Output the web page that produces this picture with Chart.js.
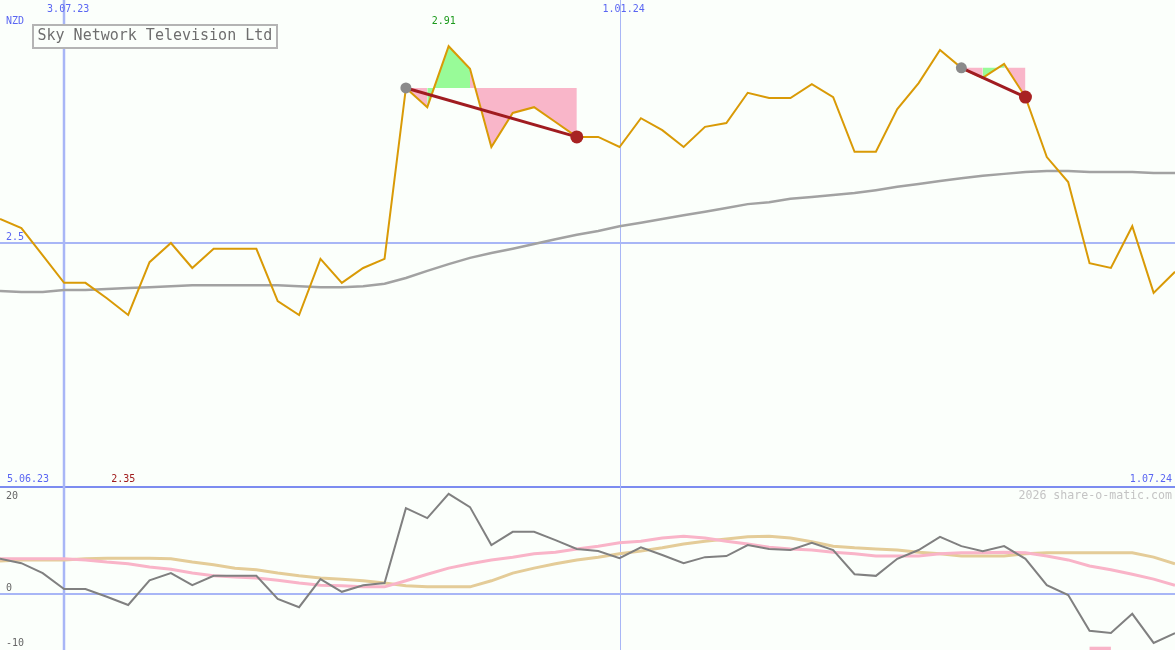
<!DOCTYPE html>
<html><head><meta charset="utf-8">
<script src="https://cdn.jsdelivr.net/npm/chart.js@4.4.1/dist/chart.umd.min.js"></script>
<style>html,body{margin:0;padding:0;background:#fbfffb;overflow:hidden}canvas{display:block}</style>
</head><body>
<canvas id="c" width="1175" height="650" style="width:1175px;height:650px"></canvas>
<script>
// ---------- data ----------
const weeks = ['12.06.23','19.06.23','26.06.23','3.07.23','10.07.23','17.07.23','24.07.23','31.07.23','7.08.23','14.08.23',
  '21.08.23','28.08.23','4.09.23','11.09.23','18.09.23','25.09.23','2.10.23','9.10.23','16.10.23','23.10.23',
  '30.10.23','6.11.23','13.11.23','20.11.23','27.11.23','4.12.23','11.12.23','18.12.23','25.12.23','1.01.24',
  '8.01.24','15.01.24','22.01.24','29.01.24','5.02.24','12.02.24','19.02.24','26.02.24','4.03.24','11.03.24',
  '18.03.24','25.03.24','1.04.24','8.04.24','15.04.24','22.04.24','29.04.24','6.05.24','13.05.24','20.05.24',
  '27.05.24','3.06.24','10.06.24','17.06.24','24.06.24','1.07.24'];
const price = [2.550,2.531,2.474,2.417,2.417,2.385,2.350,2.460,2.500,2.448,
  2.488,2.488,2.488,2.379,2.350,2.467,2.417,2.448,2.467,2.823,
  2.783,2.910,2.863,2.700,2.771,2.783,2.752,2.721,2.721,2.700,
  2.760,2.735,2.700,2.742,2.750,2.813,2.802,2.802,2.831,2.804,
  2.690,2.690,2.779,2.833,2.902,2.865,2.844,2.873,2.804,2.679,
  2.627,2.458,2.448,2.535,2.396,2.440];
const movingAvg = [2.400,2.398,2.398,2.402,2.402,2.404,2.406,2.408,2.410,2.412,
  2.412,2.412,2.412,2.412,2.410,2.408,2.408,2.410,2.415,2.427,
  2.442,2.456,2.469,2.479,2.488,2.498,2.508,2.517,2.525,2.535,
  2.542,2.550,2.558,2.565,2.573,2.581,2.585,2.592,2.596,2.600,
  2.604,2.610,2.617,2.623,2.629,2.635,2.640,2.644,2.648,2.650,
  2.650,2.648,2.648,2.648,2.646,2.646];
const oscillator = [6.4,5.6,3.8,0.9,0.9,-0.5,-2.0,2.5,3.8,1.6,
  3.3,3.3,3.3,-0.9,-2.4,2.7,0.4,1.6,2.0,15.6,
  13.8,18.2,15.8,8.9,11.3,11.3,9.8,8.2,7.8,6.5,
  8.5,7.1,5.6,6.7,6.9,8.9,8.2,8.0,9.3,8.0,
  3.6,3.3,6.4,8.0,10.4,8.7,7.8,8.7,6.4,1.6,
  -0.2,-6.7,-7.1,-3.6,-8.9,-7.1];
const oscAvgFast = [6.4,6.4,6.4,6.4,6.2,5.8,5.5,4.9,4.5,3.8,
  3.3,3.1,2.9,2.5,2.0,1.6,1.5,1.3,1.3,2.4,
  3.6,4.7,5.5,6.2,6.7,7.3,7.6,8.2,8.7,9.3,
  9.6,10.2,10.5,10.2,9.6,9.1,8.5,8.2,8.0,7.6,
  7.3,6.9,6.9,6.9,7.3,7.5,7.5,7.6,7.5,6.9,
  6.2,5.1,4.4,3.6,2.7,1.6];
const oscAvgSlow = [6.0,6.2,6.2,6.2,6.4,6.5,6.5,6.5,6.4,5.8,
  5.3,4.7,4.4,3.8,3.3,2.9,2.7,2.4,2.0,1.5,
  1.3,1.3,1.3,2.4,3.8,4.7,5.5,6.2,6.7,7.3,
  7.8,8.4,9.1,9.6,10.0,10.4,10.5,10.2,9.5,8.7,
  8.4,8.2,8.0,7.6,7.3,6.9,6.9,6.9,7.3,7.5,
  7.5,7.5,7.5,7.5,6.7,5.5];
const signalWeeks = ['3.06.24','10.06.24'];
const signalValue = -9.9;
const trades = [{open:'23.10.23', close:'18.12.23'}, {open:'22.04.24', close:'13.05.24'}];
const dateMarks = ['3.07.23','1.01.24'];
const priceTicks = [2.5];
const oscTicks = [20, 0, -10];
const rangeLabels = ['5.06.23','1.07.24'];
const currency = 'NZD';
const titleText = 'Sky Network Television Ltd';
const creditText = '2026 share-o-matic.com';

// ---------- style / layout ----------
const BG = '#fbfffb';
const GRID = '#a8b6f6';
const SPLIT_COLOR = '#7c8cf0';
const BLUE_TXT = '#5a66f2';
const PANEL_SPLIT = 487;
const MONO = "'DejaVu Sans Mono', 'Liberation Mono', monospace";
const GREEN_FILL = '#98fb98';
const PINK_FILL = '#f9b6c9';

const n = weeks.length;
const nulls = () => new Array(n).fill(null);

const datasets = [];
// exit and entry dots
const exitDots = nulls(), entryDots = nulls();
trades.forEach(t => { const a = weeks.indexOf(t.open), b = weeks.indexOf(t.close); entryDots[a] = price[a]; exitDots[b] = price[b]; });
datasets.push({data: exitDots, showLine:false, pointRadius:6.5, pointBackgroundColor:'#a82222', pointBorderWidth:0, yAxisID:'y', order:0});
datasets.push({data: entryDots, showLine:false, pointRadius:5.5, pointBackgroundColor:'#8a8a8a', pointBorderWidth:0, yAxisID:'y', order:0});
// trade lines
trades.forEach(t => {
  const a = weeks.indexOf(t.open), b = weeks.indexOf(t.close);
  const d = nulls(); d[a] = price[a]; d[b] = price[b];
  datasets.push({data:d, spanGaps:true, borderColor:'#a01c20', borderWidth:3, pointRadius:0, yAxisID:'y', order:1});
});
// price
datasets.push({data: price, borderColor:'#d99a06', borderWidth:2, pointRadius:0, tension:0, yAxisID:'y', order:2});
// trade fills
trades.forEach(t => {
  const a = weeks.indexOf(t.open), b = weeks.indexOf(t.close);
  const level = price[a];
  const d = nulls(); for (let i = a; i <= b; i++) d[i] = price[i];
  datasets.push({data:d, borderColor:'transparent', borderWidth:0, pointRadius:0, yAxisID:'y', order:3,
    backgroundColor: PINK_FILL, fill:{target:{value: level}},
    segment:{backgroundColor: c => c.p1.parsed.y > level ? GREEN_FILL : PINK_FILL}});
});
// moving average
datasets.push({data: movingAvg, borderColor:'#a2a2a2', borderWidth:2.5, pointRadius:0, yAxisID:'y', order:4});
// oscillator panel
datasets.push({data: oscillator, borderColor:'#808080', borderWidth:2, pointRadius:0, yAxisID:'y2', order:5});
datasets.push({data: oscAvgFast, borderColor:'#f9b4c8', borderWidth:3, pointRadius:0, yAxisID:'y2', order:6});
datasets.push({data: oscAvgSlow, borderColor:'#e4cc98', borderWidth:3, pointRadius:0, yAxisID:'y2', order:7});
const sig = nulls(); signalWeeks.forEach(w => sig[weeks.indexOf(w)] = signalValue);
datasets.push({data: sig, borderColor:'#f9b4c8', borderWidth:3.5, borderCapStyle:'butt', pointRadius:0, yAxisID:'y2', order:8});

function hline(ctx, x0, y, x1, color, w){ ctx.beginPath(); ctx.strokeStyle=color; ctx.lineWidth=w; ctx.moveTo(x0,y); ctx.lineTo(x1,y); ctx.stroke(); }
function vline(ctx, x, y0, y1, color, w){ ctx.beginPath(); ctx.strokeStyle=color; ctx.lineWidth=w; ctx.moveTo(x,y0); ctx.lineTo(x,y1); ctx.stroke(); }
function text(ctx, s, x, y, color, size, align){ ctx.fillStyle=color; ctx.font = size+'px '+MONO; ctx.textAlign=align||'left'; ctx.textBaseline='middle'; ctx.fillText(s, x, y); }

const deco = {
  id:'deco',
  beforeDraw(chart){ const c=chart.ctx; c.save(); c.fillStyle=BG; c.fillRect(0,0,chart.width,chart.height); c.restore(); },
  beforeDatasetsDraw(chart){
    const ctx = chart.ctx, {x, y, y2} = chart.scales, W = chart.width, H = chart.height;
    ctx.save();
    priceTicks.forEach(v => hline(ctx, 0, Math.round(y.getPixelForValue(v)), W, GRID, 2));
    hline(ctx, 0, Math.round(y2.getPixelForValue(0)), W, GRID, 2);
    hline(ctx, 0, PANEL_SPLIT, W, SPLIT_COLOR, 2);
    dateMarks.forEach((d, k) => {
      const px = x.getPixelForValue(weeks.indexOf(d));
      if (k === 0) vline(ctx, Math.round(px), 0, H, GRID, 2.5);
      else vline(ctx, Math.round(px) + 0.5, 0, H, GRID, 1);
    });
    ctx.restore();
  },
  afterDatasetsDraw(chart){
    const ctx = chart.ctx, {x, y, y2} = chart.scales, W = chart.width;
    ctx.save();
    // date marks
    dateMarks.forEach(d => text(ctx, d, x.getPixelForValue(weeks.indexOf(d)) - 17, 9, BLUE_TXT, 10));
    // currency
    text(ctx, currency, 6, 21.5, BLUE_TXT, 10);
    // price tick labels
    priceTicks.forEach(v => text(ctx, String(v), 6, y.getPixelForValue(v) - 5.5, BLUE_TXT, 10));
    // osc tick labels
    oscTicks.forEach(v => {
      let py = y2.getPixelForValue(v) - 5.5;
      py = Math.max(py, PANEL_SPLIT + 9.5);
      text(ctx, String(v), 6, py, '#666666', 10);
    });
    // high / low labels
    const hi = Math.max(...price), lo = Math.min(...price);
    text(ctx, hi.toFixed(2), x.getPixelForValue(price.indexOf(hi)) - 17, 21, '#1c9a1c', 10);
    text(ctx, lo.toFixed(2), x.getPixelForValue(price.indexOf(lo)) - 17, 479, '#a01c1c', 10);
    // range labels
    text(ctx, rangeLabels[0], 7, 479, BLUE_TXT, 10);
    text(ctx, rangeLabels[1], W - 3, 479, BLUE_TXT, 10, 'right');
    // credit
    text(ctx, creditText, W - 3, 496, '#c4c4c4', 11.6, 'right');
    // title box
    ctx.fillStyle = BG; ctx.fillRect(33, 25, 244, 23);
    ctx.strokeStyle = '#b4b4b4'; ctx.lineWidth = 2; ctx.strokeRect(33, 25, 244, 23);
    text(ctx, titleText, 37.5, 36.5, '#6e6e6e', 15);
    ctx.restore();
  }
};

new Chart(document.getElementById('c'), {
  type:'line',
  data:{labels: weeks, datasets},
  options:{
    responsive:false, animation:false, events:[],
    layout:{padding:0, autoPadding:false},
    elements:{line:{tension:0}},
    plugins:{legend:{display:false}, tooltip:{enabled:false}},
    scales:{
      x:{type:'category', display:false, offset:false},
      y:{type:'linear', display:false, min:1.65208, max:3.00625},
      y2:{type:'linear', display:false, min:-10.1818, max:108}
    }
  },
  plugins:[deco]
});
</script>
</body></html>
